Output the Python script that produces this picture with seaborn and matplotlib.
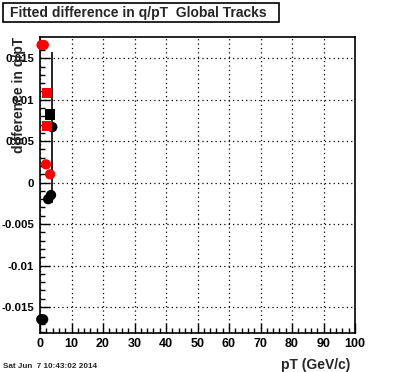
import matplotlib
matplotlib.use("Agg")
import matplotlib.pyplot as plt
from matplotlib.patches import Rectangle
from matplotlib.ticker import MultipleLocator, FuncFormatter
import seaborn as sns
import pandas as pd

# ---- data ----
black_circle_x = [0.4, 1.0, 2.6, 3.5, 3.9]
black_circle_y = [-0.0165, -0.0165, -0.0020, -0.0015, 0.0067]
black_square_x = [3.2]
black_square_y = [0.0082]
red_circle_x = [0.5, 1.2, 1.9, 3.2]
red_circle_y = [0.0166, 0.0166, 0.0022, 0.0010]
red_square_x = [2.3, 2.3]
red_square_y = [0.0108, 0.0068]
errbar_x = [3.9]
errbar_y = [0.0067]
errbar_err = [0.0091]

x_ticks = [0, 10, 20, 30, 40, 50, 60, 70, 80, 90, 100]
title_text = "Fitted difference in q/pT  Global Tracks"
xlabel_text = "pT (GeV/c)"
ylabel_text = "difference in q/pT"
date_text = "Sat Jun  7 10:43:02 2014"

rows = []
for xs, ys, col, mk in [(black_circle_x, black_circle_y, "black", "circle"),
                        (black_square_x, black_square_y, "black", "square"),
                        (red_circle_x, red_circle_y, "red", "circle"),
                        (red_square_x, red_square_y, "red", "square")]:
    for x, y in zip(xs, ys):
        rows.append({"pT": x, "diff": y, "set": col, "mk": mk})
df = pd.DataFrame(rows)

sns.set_theme(style="white")
plt.rcParams["font.family"] = ["Liberation Sans", "DejaVu Sans"]
plt.rcParams["font.weight"] = "bold"

W, H = 396, 372
fig = plt.figure(figsize=(W / 100, H / 100), dpi=100)
fig.patch.set_facecolor("white")
L, R, T, B = 40, 355, 37.3, 332.5
ax = fig.add_axes([L / W, 1 - B / H, (R - L) / W, (B - T) / H])
ax.set_facecolor("white")

ax.errorbar(errbar_x, errbar_y, yerr=errbar_err, fmt="none", ecolor="black",
            elinewidth=1.2, capsize=0, zorder=2)

sns.scatterplot(data=df, x="pT", y="diff", hue="set", style="mk",
                palette={"black": "black", "red": "#ff0000"},
                markers={"circle": "o", "square": "s"},
                s=55, linewidth=0, legend=False, ax=ax, zorder=3,
                clip_on=False)

ax.set_xlim(0, 100)
ax.set_ylim(-0.01808, 0.01753)
ax.set_xticks(x_ticks)
ax.xaxis.set_minor_locator(MultipleLocator(2))
ax.yaxis.set_major_locator(MultipleLocator(0.005))
ax.yaxis.set_minor_locator(MultipleLocator(0.001))
ax.yaxis.set_major_formatter(FuncFormatter(lambda v, p: "0" if abs(v) < 1e-12 else ("%g" % v)))
ax.xaxis.set_major_formatter(FuncFormatter(lambda v, p: "%g" % v))

ax.tick_params(axis="both", which="both", direction="in", colors="black",
               top=False, right=False, left=True, bottom=True)
ax.tick_params(axis="x", which="major", length=7, width=1, pad=4, labelsize=9)
ax.tick_params(axis="x", which="minor", length=3.5, width=1)
ax.tick_params(axis="y", which="major", length=7, width=1, pad=4.3, labelsize=8.2)
ax.tick_params(axis="y", which="minor", length=3.5, width=1)
for lab in ax.get_xticklabels() + ax.get_yticklabels():
    lab.set_fontweight("bold")

ax.grid(True, which="major", color="black", linestyle=(0, (1, 2.5)), linewidth=0.9)
for sp in ax.spines.values():
    sp.set_visible(True)
    sp.set_color("black")
    sp.set_linewidth(1.2)

ax.set_xlabel(xlabel_text, fontsize=10, fontweight="bold", loc="right")
ax.xaxis.set_label_coords((350 - L) / (R - L), -0.085)
ax.set_ylabel(ylabel_text, fontsize=10, fontweight="bold", loc="top")
ax.yaxis.set_label_coords((19 - L) / (R - L), 1.0)
ax.yaxis.label.set_va("center")

# title box
fig.patches.append(Rectangle((3.3 / W, 1 - 22 / H), (279 - 3.3) / W, (22 - 2.7) / H,
                             transform=fig.transFigure, facecolor="white",
                             edgecolor="black", linewidth=1.2))
fig.text(10 / W, 1 - 12.5 / H, title_text, fontsize=10, fontweight="bold",
         ha="left", va="center")
fig.text(3 / W, 1 - 366 / H, date_text, fontsize=5.9, fontweight="bold",
         ha="left", va="center")

fig.savefig("out.png", dpi=100, facecolor="white")
